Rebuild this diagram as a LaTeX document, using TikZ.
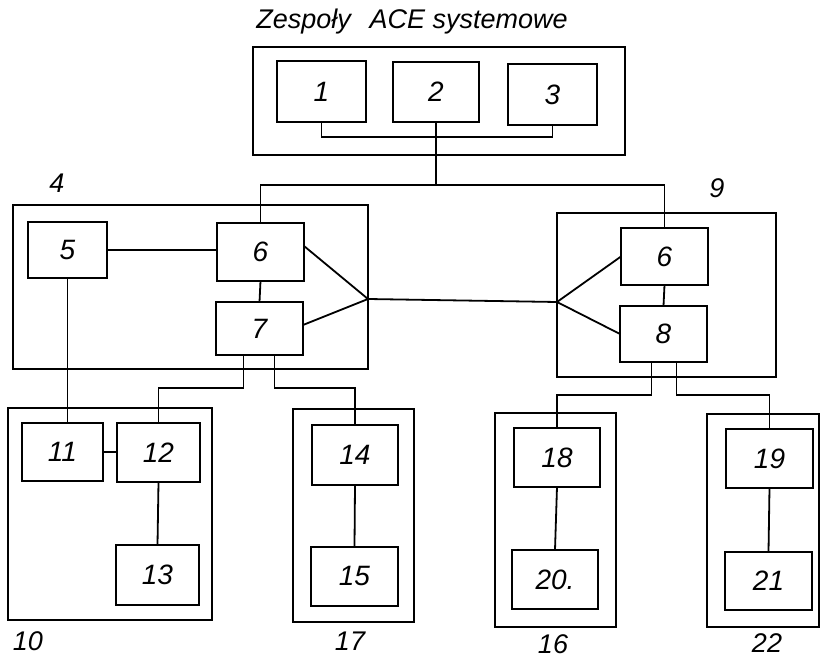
\documentclass[tikz,border=0pt]{standalone}
\usepackage{fontspec}
\setmainfont{Liberation Sans}
\tikzset{
  blk/.style={draw, line width=2.8pt, rectangle, inner sep=0pt, outer sep=0pt,
              font=\fontsize{28}{30}\selectfont\itshape},
  wire/.style={line width=1.8pt},
  tag/.style={font=\fontsize{27}{29}\selectfont\itshape, inner sep=0pt}
}
% \blk{name}{left}{top}{right}{bottom}{label}
\newcommand{\blk}[6]{\node[blk, anchor=north west,
  minimum width={(#4-#2)*1pt}, minimum height={(#5-#3)*1pt}] (#1) at (#2,#3) {#6};}
\begin{document}
\begin{tikzpicture}[x=1pt, y=-1pt]
\useasboundingbox (0,0) rectangle (822,660);

% title
\node[tag, font=\fontsize{27}{30}\selectfont\itshape] (title) at (412,22)
  {Zespoły\hspace{0.7em}ACE systemowe};

% system units
\blk{top}{253}{47}{625}{155}{}
\blk{b1}{277}{61}{366}{122}{1}
\blk{b2}{393}{62}{479}{122}{2}
\blk{b3}{508}{64}{597}{125}{3}

% group 4
\blk{f4}{13}{205}{368}{369}{}
\blk{a5}{28}{222}{107}{278}{5}
\blk{a6}{217}{223}{304}{281}{6}
\blk{a7}{216}{302}{303}{355}{7}
\node[tag] (l4) at (57,183) {4};

% group 9
\blk{f9}{557}{213}{776}{377}{}
\blk{c6}{621}{228}{708}{285}{6}
\blk{c8}{620}{306}{707}{362}{8}
\node[tag] (l9) at (717,188) {9};

% group 10
\blk{f10}{8}{408}{212}{620}{}
\blk{d11}{22}{423}{103}{481}{11}
\blk{d12}{117}{423}{200}{482}{12}
\blk{d13}{116}{545}{199}{605}{13}
\node[tag] (l10) at (28,641) {10};

% group 17
\blk{f17}{293}{409}{414}{622}{}
\blk{d14}{312}{425}{398}{485}{14}
\blk{d15}{311}{547}{398}{606}{15}
\node[tag] (l17) at (350,641) {17};

% group 16
\blk{f16}{495}{413}{616}{627}{}
\blk{e18}{514}{428}{600}{487}{18}
\blk{e20}{512}{550}{598}{609}{20.}
\node[tag] (l16) at (553,644) {16};

% group 22
\blk{f22}{707}{414}{819}{627}{}
\blk{e19}{726}{429}{813}{488}{19}
\blk{e21}{725}{552}{812}{610}{21}
\node[tag] (l22) at (767,643) {22};

% internal bus of the system units
\draw[wire] (b1.south) -- (b1.south |- 0,137) -| (b3.south);
\coordinate (bus) at (b2.south |- 0,185);
\draw[wire] (b2.south) -- (bus);
\draw[wire] (a6.north) |- (bus) -| (c6.north);

% junctions on the group frames
\coordinate (jl) at (f4.east |- 0,299);
\coordinate (jr) at (f9.west |- 0,302);
\draw[wire] (jl) -- (jr);
\draw[wire] (a6.east |- 0,246) -- (jl) -- (a7.east |- 0,325);
\draw[wire] (c6.west) -- (jr) -- (c8.west);

% links inside group 4 and 9
\draw[wire] (a5.east) -- (a6.west |- a5.east);
\draw[wire] (a6.south) -- (a7.north);
\draw[wire] (c6.south) -- (c8.north);

% links to the lower groups
\draw[wire] (a5.south) -- (a5.south |- d11.north);
\draw[wire] ([xshift=-16pt]a7.south) -- ++(0,33) -| (d12.north);
\draw[wire] ([xshift=15pt]a7.south) -- ++(0,33) -| (d14.north);
\draw[wire] ([xshift=-12pt]c8.south) -- ++(0,33) -| (e18.north);
\draw[wire] ([xshift=13pt]c8.south) -- ++(0,33) -| (e19.north);

% links inside the lower groups
\draw[wire] (d11.east) -- (d12.west |- d11.east);
\draw[wire] (d12.south) -- (d13.north);
\draw[wire] (d14.south) -- (d15.north);
\draw[wire] (e18.south) -- (e20.north);
\draw[wire] (e19.south) -- (e21.north);
\end{tikzpicture}
\end{document}
